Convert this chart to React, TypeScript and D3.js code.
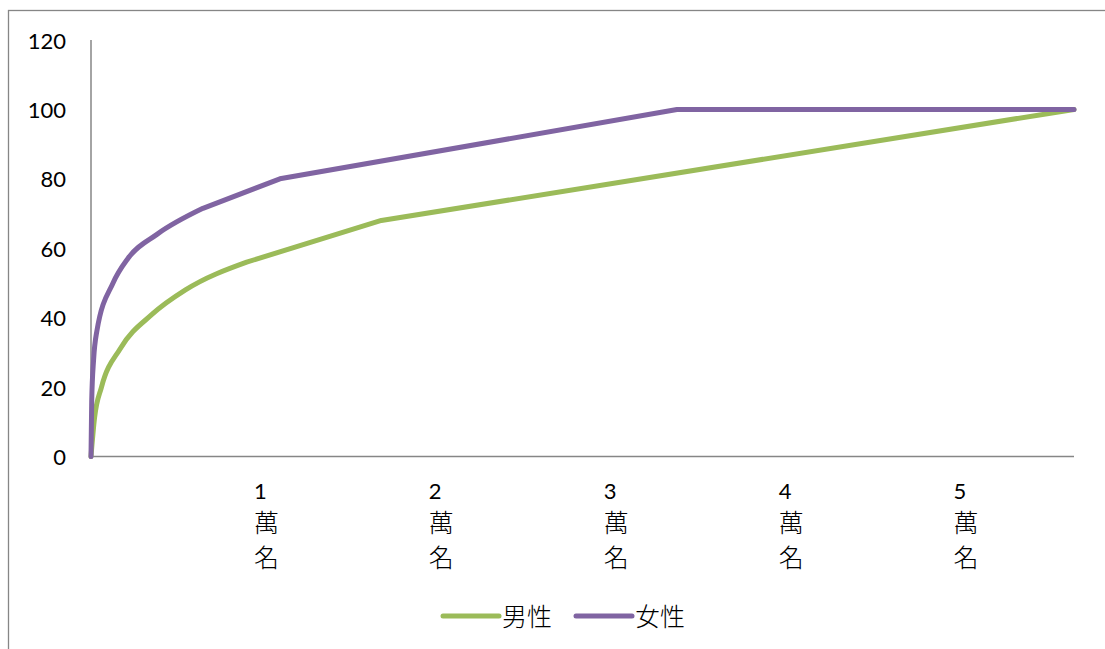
import React from "react";
import * as d3 from "d3";

const seriesNames = ["男性", "女性"];
const seriesColors = ["#9BBB59", "#8064A2"];
const maleX = [0, 0.02, 0.06, 0.166, 0.35, 0.54, 0.89, 1.66, 5.62];
const maleY = [0, 11, 20, 31, 41, 48, 56, 68, 100];
const femaleX = [0, 0.004, 0.015, 0.033, 0.126, 0.21, 0.377, 0.64, 1.08, 3.35, 5.62];
const femaleY = [0, 16, 28, 36, 50, 57, 64, 71.5, 80, 100, 100];
// index of the last point of the smoothed (curved) part of each series
const smoothEnd = [6, 7];
const xTickValues = [1, 2, 3, 4, 5];
const xTickUnit = ["萬", "名"];
const yTicks = [0, 20, 40, 60, 80, 100, 120];

const W = 1105;
const H = 649;
const left = 91;
const right = 1074;
const top = 40;
const bottom = 456.5;

export default function App() {
  const x = d3.scaleLinear().domain([0, 5.62]).range([left, right]);
  const y = d3.scaleLinear().domain([0, 120]).range([bottom, top]);
  const smooth = d3
    .line<[number, number]>()
    .x((d) => x(d[0]))
    .y((d) => y(d[1]))
    .curve(d3.curveMonotoneX);
  const straight = d3
    .line<[number, number]>()
    .x((d) => x(d[0]))
    .y((d) => y(d[1]))
    .curve(d3.curveLinear);
  const series = [
    maleX.map((v, i) => [v, maleY[i]] as [number, number]),
    femaleX.map((v, i) => [v, femaleY[i]] as [number, number]),
  ];
  const paths = series.map((s, i) => {
    const k = smoothEnd[i];
    const a = smooth(s.slice(0, k + 1)) || "";
    const b = (straight(s.slice(k)) || "").replace(/^M/, "L");
    return a + b;
  });
  const numFont = "Lato, 'Open Sans', sans-serif";
  const cjkFont = "'Noto Sans CJK TC', 'Noto Sans CJK SC', sans-serif";
  const legendItems = [
    { x0: 443, x1: 499, tx: 502 },
    { x0: 576, x1: 632, tx: 635 },
  ];
  return (
    <svg
      width={W}
      height={H}
      style={{ position: "absolute", left: 0, top: 0, background: "#fff" }}
    >
      <rect x={8.5} y={10.5} width={1110} height={660} fill="#fff" stroke="#868686" strokeWidth={1.3} />
      {yTicks.map((t) => (
        <text
          key={t}
          x={66}
          y={y(t)}
          textAnchor="end"
          dominantBaseline="central"
          fontFamily={numFont}
          fontSize={22}
          fill="#000"
        >
          {t}
        </text>
      ))}
      <line x1={left} x2={left} y1={top} y2={bottom} stroke="#868686" strokeWidth={1.5} />
      <line x1={left} x2={right} y1={bottom} y2={bottom} stroke="#868686" strokeWidth={1.5} />
      {xTickValues.map((v) => (
        <g key={v}>
          <text x={x(v) - 12} y={499} fontFamily={numFont} fontSize={22} fill="#000">
            {v}
          </text>
          {xTickUnit.map((c, i) => (
            <text
              key={c}
              x={x(v) - 12}
              y={532 + i * 35}
              fontFamily={cjkFont}
              fontWeight={300}
              fontSize={25}
              fill="#000"
            >
              {c}
            </text>
          ))}
        </g>
      ))}
      {paths.map((d, i) => (
        <path
          key={i}
          d={d}
          fill="none"
          stroke={seriesColors[i]}
          strokeWidth={5}
          strokeLinejoin="round"
          strokeLinecap="round"
        />
      ))}
      {legendItems.map((l, i) => (
        <g key={i}>
          <line
            x1={l.x0}
            x2={l.x1}
            y1={616}
            y2={616}
            stroke={seriesColors[i]}
            strokeWidth={5}
            strokeLinecap="round"
          />
          <text x={l.tx} y={626} fontFamily={cjkFont} fontWeight={300} fontSize={25} fill="#000">
            {seriesNames[i]}
          </text>
        </g>
      ))}
    </svg>
  );
}
